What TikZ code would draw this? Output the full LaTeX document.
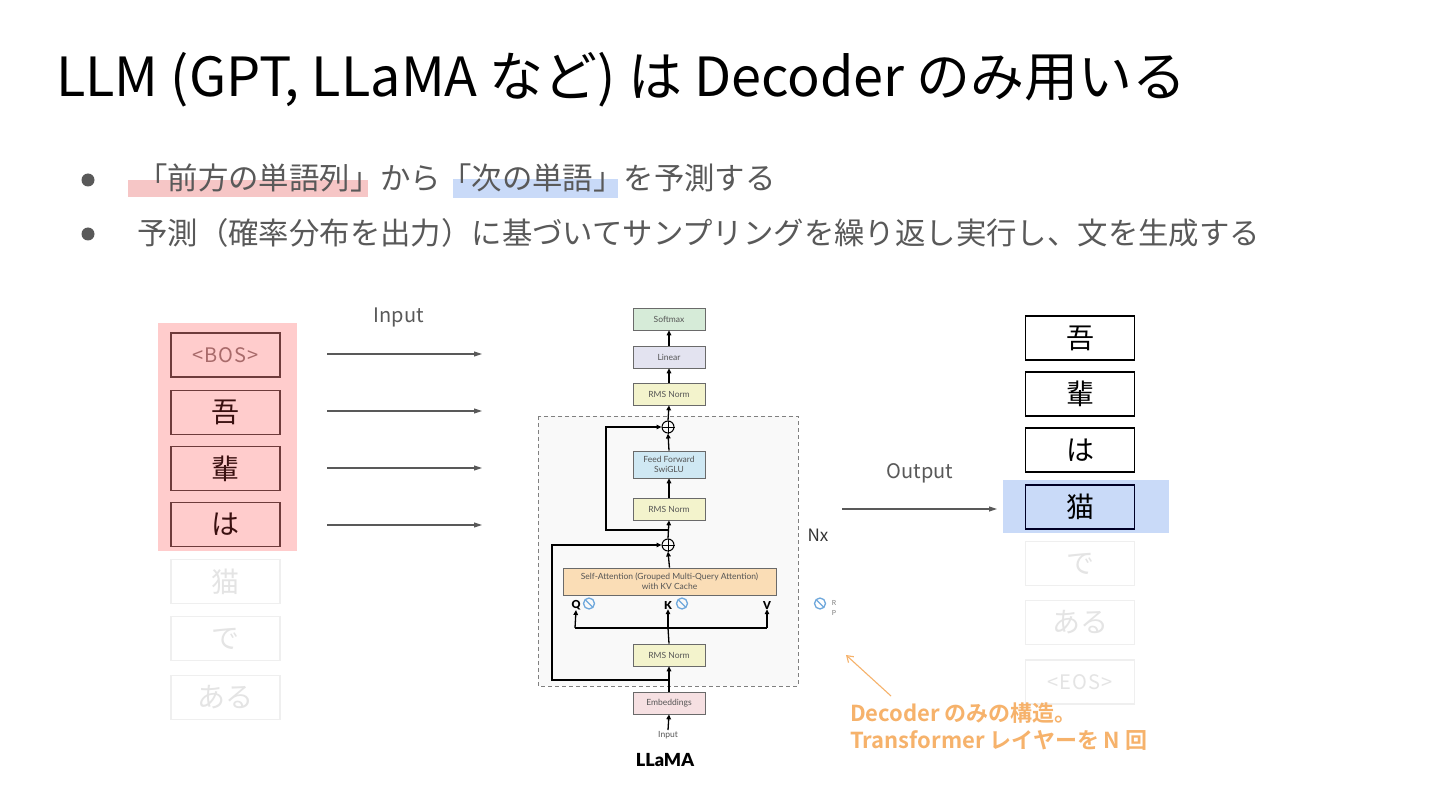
\documentclass[tikz,border=0pt]{standalone}
\usepackage{fontspec}
\setmainfont{Noto Sans CJK JP}
\newfontfamily\lato{Lato}
\newfontfamily\latoblack{Lato Black}
\newfontfamily\jpbold{Noto Sans CJK JP Bold}
\usetikzlibrary{arrows.meta}
\definecolor{bul}{HTML}{595959}
\definecolor{pinkbg}{HTML}{FFCCCC}
\definecolor{pinkhl}{HTML}{F6C6C6}
\definecolor{bluebg}{HTML}{C9DAF8}
\definecolor{boxred}{HTML}{6E3B3B}
\definecolor{txtred}{HTML}{3A1010}
\definecolor{bostxt}{HTML}{A86A6A}
\definecolor{fadeb}{HTML}{EFEFEF}
\definecolor{fadet}{HTML}{E4E4E4}
\definecolor{orann}{HTML}{F6B26B}
\definecolor{cSoft}{HTML}{D6EBD8}
\definecolor{cLin}{HTML}{E3E3F0}
\definecolor{cRms}{HTML}{F3F3CC}
\definecolor{cFF}{HTML}{CFE8F3}
\definecolor{cAtt}{HTML}{FADDB6}
\definecolor{cEmb}{HTML}{F6E0E2}
\definecolor{blkb}{HTML}{6A6A6A}
\definecolor{blkt}{HTML}{555555}
\definecolor{icon}{HTML}{6FA8DC}
\tikzset{
  tok/.style={draw, line width=1.2pt, minimum width=109pt, minimum height=44pt, inner sep=0pt, font=\fontsize{28}{28}\selectfont},
  lefttok/.style={tok, draw=boxred, text=txtred},
  fadetok/.style={tok, draw=fadeb, text=fadet},
  righttok/.style={tok, draw=black, text=black},
  sptok/.style={font=\addfontfeatures{LetterSpace=5}\fontsize{20}{20}\selectfont},
  garr/.style={draw=bul, line width=1.1pt, -{Triangle[length=8pt,width=5pt]}},
  blk/.style={draw=blkb, line width=0.7pt, minimum width=72pt, minimum height=22pt, inner sep=1pt, align=center, text=blkt, font=\lato\fontsize{8.5}{10}\selectfont},
  larr/.style={draw=black, line width=1.3pt, -{Triangle[length=5pt,width=4.5pt]}},
  lline/.style={draw=black, line width=1.3pt},
  plusc/.style={circle, draw=black, line width=1pt, minimum size=12pt, inner sep=0pt},
  qkv/.style={font=\latoblack\fontsize{11}{11}\selectfont, inner sep=0pt},
  lbl/.style={text=bul, font=\fontsize{20}{20}\selectfont, inner sep=0pt}
}
\begin{document}
\begin{tikzpicture}[x=1pt,y=-1pt]
\path[fill=white] (0,0) rectangle (1440,810);
\useasboundingbox (0,0) rectangle (1440,810);

% title
\node[anchor=base west, inner sep=0pt, font=\fontsize{54}{54}\selectfont] (title) at (56,97) {LLM (GPT, LLaMA など) は Decoder のみ用いる};

% bullets
\fill[pinkhl] (128,180) rectangle (368,197);
\fill[bluebg] (453,179) rectangle (618,198);
\fill[bul] (88,180) circle (6.5);
\fill[bul] (88,234) circle (6.5);
\node[anchor=west, inner sep=0pt, text=bul, font=\fontsize{30.4}{30.4}\selectfont] (b1) at (137,178) {「前方の単語列」から「次の単語」を予測する};
\node[anchor=west, inner sep=0pt, text=bul, font=\fontsize{30.4}{30.4}\selectfont] (b2) at (137,233) {予測（確率分布を出力）に基づいてサンプリングを繰り返し実行し、文を生成する};

% left column
\fill[pinkbg] (158,323) rectangle (297,551);
\node[lefttok, text=bostxt, sptok] (l0) at (225.5,355) {<BOS>};
\node[lefttok] (l1) at (225.5,412.5) {吾};
\node[lefttok] (l2) at (225.5,468.5) {輩};
\node[lefttok] (l3) at (225.5,524.5) {は};
\node[fadetok] (l4) at (225.5,581.5) {猫};
\node[fadetok] (l5) at (225.5,638.5) {で};
\node[fadetok] (l6) at (225.5,697.5) {ある};

% input arrows
\node[lbl] (inlbl) at (399,317) {Input};
\coordinate (s0) at (327,354); \coordinate (e0) at (482,354);
\coordinate (s1) at (327,411); \coordinate (e1) at (482,411);
\coordinate (s2) at (327,468); \coordinate (e2) at (482,468);
\coordinate (s3) at (327,525); \coordinate (e3) at (482,525);
\draw[garr] (s0) -- (e0);
\draw[garr] (s1) -- (e1);
\draw[garr] (s2) -- (e2);
\draw[garr] (s3) -- (e3);

% LLaMA diagram
\draw[draw=gray, fill=black!2.5, line width=0.9pt, dash pattern=on 4pt off 3pt] (538,416) rectangle (798,686);
\node[blk, fill=cSoft] (soft) at (669,319) {Softmax};
\node[blk, fill=cLin] (lin) at (669,357) {Linear};
\node[blk, fill=cRms] (rmsT) at (669,394) {RMS Norm};
\node[plusc] (p1) at (668,427) {};
\node[blk, fill=cFF, minimum height=27pt] (ff) at (669,464.5) {Feed Forward\\SwiGLU};
\node[blk, fill=cRms] (rmsA) at (669,509) {RMS Norm};
\node[plusc] (p2) at (668,545) {};
\node[blk, fill=cAtt, minimum width=213pt, minimum height=27pt] (att) at (669.5,581.5) {Self-Attention (Grouped Multi-Query Attention)\\with KV Cache};
\node[qkv] (q) at (576,605) {Q};
\node[qkv] (k) at (668,605) {K};
\node[qkv] (v) at (767,605) {V};
\node[blk, fill=cRms] (rmsB) at (669,655) {RMS Norm};
\node[blk, fill=cEmb] (emb) at (669,703) {Embeddings};
\node[text=blkt, font=\lato\fontsize{8.5}{8.5}\selectfont, inner sep=1pt] (inp) at (668,735) {Input};
\node[font=\fontsize{17}{17}\selectfont, text=black!80, inner sep=0pt] (nx) at (818,535) {Nx};
\node[font=\latoblack\fontsize{18}{18}\selectfont, inner sep=0pt] (llama) at (665,760) {LLaMA};
\node[text=gray, font=\lato\fontsize{7}{7}\selectfont, inner sep=0pt] (rr) at (834,603) {R};
\node[text=gray, font=\lato\fontsize{7}{7}\selectfont, inner sep=0pt] (pp) at (834,613) {P};

% plus signs
\draw[line width=0.9pt] (p1.north) -- (p1.south) (p1.west) -- (p1.east);
\draw[line width=0.9pt] (p2.north) -- (p2.south) (p2.west) -- (p2.east);

% icons
\foreach \cx in {589,682,820}{
  \draw[icon, line width=1.3pt] (\cx,603.5) circle (5.5);
  \draw[icon, line width=1.3pt] (\cx-3.5,600) -- (\cx+3.5,607);
}

% LLaMA connectors
\draw[larr] (inp.north) -- (emb.south);
\draw[larr] (emb.north) -- (rmsB.south);
\coordinate (j) at (668,628);
\coordinate (qa) at (575,628);
\coordinate (va) at (767,628);
\draw[lline] (rmsB.north) -- (j);
\draw[lline] (qa) -- (va);
\draw[larr] (qa) -- (q.south);
\draw[larr] (j) -- (k.south);
\draw[larr] (va) -- (v.south);
\draw[larr] (att.north) -- (p2.south);
\coordinate (r2s) at (668,680);
\coordinate (r2a) at (552,680);
\draw[larr] (r2s) -- (r2a) |- (p2.west);
\draw[larr] (p2.north) -- (rmsA.south);
\draw[larr] (rmsA.north) -- (ff.south);
\draw[larr] (ff.north) -- (p1.south);
\coordinate (r1s) at (668,530);
\coordinate (r1a) at (606,530);
\draw[larr] (r1s) -- (r1a) |- (p1.west);
\draw[larr] (p1.north) -- (rmsT.south);
\draw[larr] (rmsT.north) -- (lin.south);
\draw[larr] (lin.north) -- (soft.south);

% output
\fill[bluebg] (1003,480) rectangle (1169,533);
\node[righttok] (o1) at (1080,338) {吾};
\node[righttok] (o2) at (1080,394) {輩};
\node[righttok] (o3) at (1080,450) {は};
\node[righttok, draw=black!85!blue] (o4) at (1080,507) {猫};
\node[fadetok] (o5) at (1080,563.5) {で};
\node[fadetok] (o6) at (1080,622.5) {ある};
\node[fadetok, sptok] (o7) at (1080,682) {<EOS>};
\node[lbl] (outlbl) at (920,473) {Output};
\coordinate (os) at (842,509); \coordinate (oe) at (997,509);
\draw[garr] (os) -- (oe);

% annotation
\coordinate (an1) at (891,696); \coordinate (an2) at (846,655);
\draw[draw=orann, line width=1.1pt, -{Straight Barb[length=6pt,width=8pt]}] (an1) -- (an2);
\node[anchor=west, inner sep=0pt, text=orann, font=\jpbold\fontsize{22}{22}\selectfont] (ann1) at (850,713) {Decoder のみの構造。};
\node[anchor=west, inner sep=0pt, text=orann, font=\jpbold\fontsize{22}{22}\selectfont] (ann2) at (850,740) {Transformer レイヤーを N 回};
\end{tikzpicture}
\end{document}
